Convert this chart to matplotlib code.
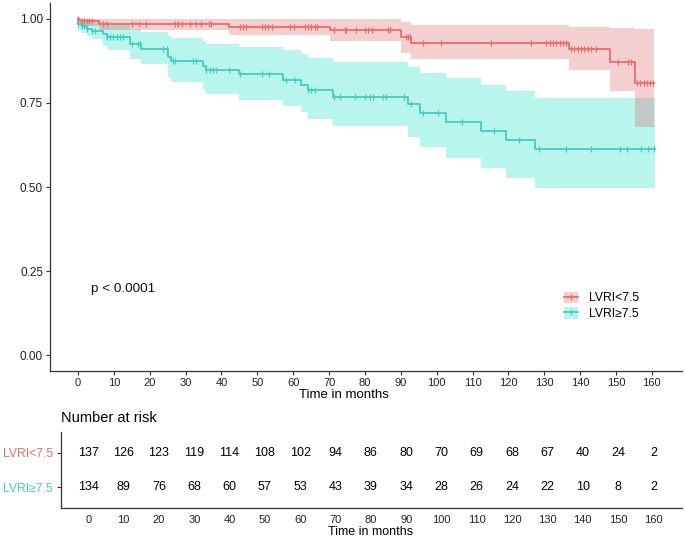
import matplotlib
matplotlib.use('Agg')
import matplotlib.pyplot as plt
from matplotlib.lines import Line2D
from matplotlib.patches import Patch
import numpy as np

plt.rcParams['font.family'] = ['Liberation Sans', 'DejaVu Sans']

# group names
groups = ['LVRI<7.5', 'LVRI\u22657.5']

# LVRI<7.5 : step times, survival, CI lower, CI upper
low_t = [0, 0.5, 6.0, 42.0, 70.2, 90.1, 92.9, 137.0, 148.2, 155.3]
low_s = [1.0, 0.993, 0.985, 0.977, 0.967, 0.947, 0.930, 0.911, 0.873, 0.810]
low_lo = [1.0, 0.978, 0.967, 0.952, 0.935, 0.898, 0.881, 0.848, 0.786, 0.679]
low_hi = [1.0, 1.0, 1.0, 1.0, 1.0, 0.99, 0.982, 0.977, 0.972, 0.970]
low_end = 160.7
low_cens = [0.1, 1.0, 1.7, 2.4, 3.2, 3.8, 7.1, 8.0, 15.0, 17.1, 19.1, 27.0, 27.9,
            28.9, 31.2, 33.0, 34.2, 36.6, 37.2, 45.1, 46.1, 46.8, 51.2, 52.1, 53.0,
            54.0, 59.1, 60.2, 63.2, 64.1, 65.1, 66.0, 66.7, 71.3, 74.4, 74.8, 77.4,
            80.0, 80.9, 82.1, 86.5, 87.1, 91.4, 92.0, 92.7, 96.2, 101.1, 115.2, 126.4,
            130.4, 131.5, 132.4, 133.3, 134.3, 135.2, 136.1, 137.5, 138.4, 139.4, 140.3,
            141.2, 142.2, 143.1, 144.3, 150.5, 153.3, 154.2, 155.9, 156.8, 157.7,
            158.6, 159.5, 160.4]

# LVRI>=7.5
high_t = [0, 0.1, 1.0, 2.4, 3.8, 6.9, 8.0, 14.5, 17.7, 25.2, 26.0, 34.9, 35.8, 45.0,
          57.2, 62.3, 64.2, 71.1, 92.0, 95.3, 102.5, 112.4, 119.2, 127.3]
high_s = [1.0, 0.985, 0.978, 0.970, 0.963, 0.955, 0.946, 0.925, 0.912, 0.888, 0.876,
          0.860, 0.848, 0.835, 0.818, 0.804, 0.789, 0.769, 0.746, 0.721, 0.694, 0.667,
          0.640, 0.613]
high_lo = [1.0, 0.965, 0.958, 0.950, 0.940, 0.920, 0.908, 0.882, 0.866, 0.828, 0.813,
           0.793, 0.778, 0.760, 0.742, 0.722, 0.702, 0.682, 0.650, 0.620, 0.585, 0.556,
           0.527, 0.497]
high_hi = [1.0, 1.0, 1.0, 0.998, 0.993, 0.99, 0.985, 0.97, 0.962, 0.95, 0.942, 0.935,
           0.927, 0.918, 0.908, 0.896, 0.883, 0.873, 0.858, 0.840, 0.823, 0.804, 0.787,
           0.764]
high_end = 160.9
high_cens = [0.1, 1.0, 1.7, 2.4, 4.0, 4.7, 8.0, 8.9, 9.8, 10.8, 11.7, 12.6, 15.2, 16.8,
             17.3, 23.8, 24.7, 26.5, 27.0, 32.1, 33.0, 35.8, 36.8, 37.7, 38.6, 42.2,
             45.1, 51.2, 53.2, 58.1, 60.4, 64.2, 65.1, 66.0, 71.4, 73.1, 77.2, 79.9,
             81.3, 82.2, 85.0, 85.9, 91.0, 92.9, 96.2, 100.4, 107.0, 116.0, 123.0,
             128.5, 136.0, 143.0, 151.0, 153.0, 157.0, 159.0, 160.5]

# number at risk
risk_times = [0, 10, 20, 30, 40, 50, 60, 70, 80, 90, 100, 110, 120, 130, 140, 150, 160]
risk_low = [137, 126, 123, 119, 114, 108, 102, 94, 86, 80, 70, 69, 68, 67, 40, 24, 2]
risk_high = [134, 89, 76, 68, 60, 57, 53, 43, 39, 34, 28, 26, 24, 22, 10, 8, 2]

red = '#EE6B68'
red_fill = '#DA6262'
teal = '#45CDBF'
teal_fill = '#16DEC3'

W, H = 685, 539
fig = plt.figure(figsize=(W / 100, H / 100), dpi=100)

def px_rect(x0, y0, x1, y1):
    return [x0 / W, 1 - y1 / H, (x1 - x0) / W, (y1 - y0) / H]

ax = fig.add_axes(px_rect(50, 3, 682, 371))

curves = [(high_t, high_s, high_lo, high_hi, high_end, high_cens, teal, teal_fill),
          (low_t, low_s, low_lo, low_hi, low_end, low_cens, red, red_fill)]
for t, s, lo, hi, end, cens, col, fcol in curves:
    tt = np.append(t, end)
    ax.fill_between(tt, np.append(lo, lo[-1]), np.append(hi, hi[-1]), step='post',
                    color=fcol, alpha=0.3, linewidth=0)
for t, s, lo, hi, end, cens, col, fcol in curves:
    tt = np.append(t, end)
    ss = np.append(s, s[-1])
    ax.step(tt, ss, where='post', color=col, lw=1.3)
    idx = np.searchsorted(t, cens, side='right') - 1
    ax.plot(cens, np.array(s)[idx], ls='none', marker='|', ms=5, mew=0.9, color=col)

ax.set_xlim(-7.8, 168.4)
ax.set_ylim(-0.0476, 1.0476)
ax.set_xticks(risk_times)
ax.set_yticks([0, 0.25, 0.5, 0.75, 1.0])
ax.set_yticklabels(['0.00', '0.25', '0.50', '0.75', '1.00'])
for side in ['top', 'right']:
    ax.spines[side].set_visible(False)
for side in ['left', 'bottom']:
    ax.spines[side].set_color('#333333')
    ax.spines[side].set_linewidth(0.9)
ax.tick_params(axis='y', labelsize=8.5, length=3, width=0.8, color='#333333', pad=2,
               labelcolor='#222222')
ax.tick_params(axis='x', labelsize=8, length=3, width=0.8, color='#333333', pad=2,
               labelcolor='#222222')
ax.text(3.6, 0.196, 'p < 0.0001', fontsize=9.7, va='center', ha='left', color='#111111')

handles = [(Patch(facecolor=red_fill, alpha=0.3, linewidth=0),
            Line2D([], [], color=red, lw=1.3, marker='|', ms=5, mew=0.9)),
           (Patch(facecolor=teal_fill, alpha=0.3, linewidth=0),
            Line2D([], [], color=teal, lw=1.3, marker='|', ms=5, mew=0.9))]
ax.legend(handles, groups, loc='upper left', bbox_to_anchor=(0.805, 0.229), frameon=False,
          fontsize=8.7, handlelength=1.2, handleheight=1.1, handletextpad=0.9,
          labelspacing=0.25, borderaxespad=0)

fig.text(344 / W, 1 - 395 / H, 'Time in months', fontsize=9.5, ha='center', va='center')

# risk table
rax = fig.add_axes(px_rect(61, 432, 682, 508))
for i, n in enumerate(risk_low):
    rax.text(risk_times[i], 1, str(n), ha='center', va='center', fontsize=9)
for i, n in enumerate(risk_high):
    rax.text(risk_times[i], 0, str(n), ha='center', va='center', fontsize=9)
rax.set_xlim(-7.73, 168.1)
rax.set_ylim(-0.6, 1.6)
rax.set_xticks(risk_times)
rax.set_yticks([1, 0])
rax.set_yticklabels(groups)
for lab, col in zip(rax.get_yticklabels(), [red, teal]):
    lab.set_color(col)
for side in ['top', 'right']:
    rax.spines[side].set_visible(False)
for side in ['left', 'bottom']:
    rax.spines[side].set_color('#333333')
    rax.spines[side].set_linewidth(0.9)
rax.tick_params(axis='x', labelsize=8, length=0, pad=5, labelcolor='#222222')
rax.tick_params(axis='y', labelsize=8.7, length=3, width=0.8, color='#333333', pad=3)
fig.text(61 / W, 1 - 418 / H, 'Number at risk', fontsize=10.5, ha='left', va='center')
fig.text(371 / W, 1 - 532 / H, 'Time in months', fontsize=9, ha='center', va='center')

fig.savefig('out.png', dpi=100)
